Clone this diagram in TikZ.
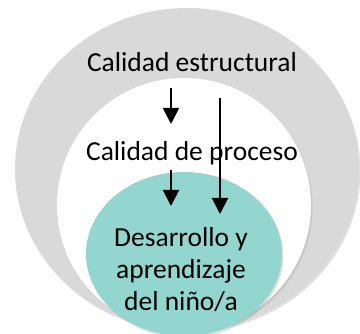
\documentclass[tikz,border=0pt]{standalone}
\usepackage{fontspec}
\setmainfont{Carlito}
\usetikzlibrary{shadows,arrows.meta}
\begin{document}
\begin{tikzpicture}[x=1pt,y=-1pt,
  ring/.style={draw=none, drop shadow={shadow xshift=1.5pt, shadow yshift=-2pt, opacity=0.35, fill=gray!70}},
  lbl/.style={font=\fontsize{27.5}{32}\selectfont, inner sep=0pt, align=center},
  arr/.style={-{Triangle[length=16pt,width=16pt]}, line width=2pt}]
\useasboundingbox (0,0) rectangle (360,334);
\begin{scope}
\clip (0,0) rectangle (360,334);
\fill[gray!30, ring] (187,169) ellipse [x radius=172, y radius=161];
\fill[white, ring] (184,205) ellipse [x radius=127, y radius=127];
\fill[fill={rgb,255:red,147;green,214;blue,207}, ring] (184,254) ellipse [x radius=98, y radius=82];
\end{scope}
\node[lbl] (es) at (192,62) {Calidad estructural};
\node[lbl] (pr) at (192,153) {Calidad de proceso};
\node[lbl] (de) at (181,270) {Desarrollo y\\aprendizaje\\del niño/a};
\coordinate (a1s) at (171,88);
\coordinate (a1e) at (171,124);
\coordinate (a2s) at (171,170);
\coordinate (a2e) at (171,206);
\coordinate (a3s) at (220,98);
\coordinate (a3e) at (220,214);
\draw[arr] (a1s) -- (a1e);
\draw[arr] (a2s) -- (a2e);
\draw[arr] (a3s) -- (a3e);
\end{tikzpicture}
\end{document}
